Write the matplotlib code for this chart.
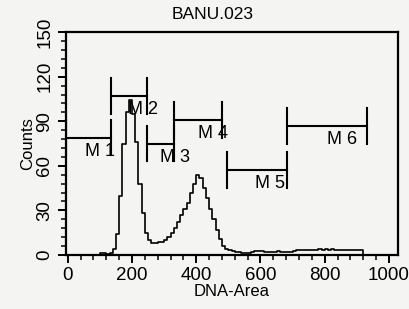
import numpy as np
import matplotlib
matplotlib.use("Agg")
import matplotlib.pyplot as plt

plt.rcParams['font.family'] = ['Liberation Sans', 'DejaVu Sans']

# histogram: left edge of each 10-unit channel bin and its count
bin_left = np.arange(0, 1030, 10)
counts = [0, 0, 0, 0, 0, 0, 0, 0, 0, 0,
          1, 1, 0.5, 1.5, 4, 14, 40, 75, 96, 104,
          95, 76, 48, 28, 15, 10, 8, 8, 8.5, 9,
          10, 12, 15, 18, 22, 27, 31, 35, 42, 48,
          54, 52, 45, 38, 31, 24, 17, 11, 6, 4,
          3.5, 2.5, 2, 2, 1.5, 1.5, 1.5, 2, 2.5, 2.5,
          2.5, 2, 2, 2, 2, 2.5, 2, 2, 2, 2,
          2.5, 3, 3, 3, 3, 3, 3.5, 3.5, 4, 3.5,
          4, 3.5, 4, 3.5, 3.5, 3, 3, 3, 3, 3,
          3, 3, 0, 0, 0, 0, 0, 0, 0, 0,
          0, 0, 0]

# region markers
marker_names = ['M1', 'M2', 'M3', 'M4', 'M5', 'M6']
marker_start = [-6, 134, 246, 330, 495, 682]
marker_end = [134, 246, 330, 480, 682, 931]
marker_level = [79, 107, 75, 91, 57, 87]
label_x = [146, 282, 382, 498, 676, 900]

fig = plt.figure(figsize=(4.09, 3.09), dpi=100)
fig.patch.set_facecolor('#f4f4f2')
ax = fig.add_axes([0.161, 0.175, 0.812, 0.721])
ax.set_facecolor('#f4f4f2')

ax.step(bin_left, counts, where='post', color='black', lw=1.2)

for name, x0, x1, lev, lx in zip(marker_names, marker_start, marker_end, marker_level, label_x):
    ax.plot([x0, x1], [lev, lev], color='black', lw=1.5)
    ax.plot([x0, x0], [lev - 12, lev + 12], color='black', lw=1.5)
    ax.plot([x1, x1], [lev - 12, lev + 12], color='black', lw=1.5)
    ax.text(lx, lev - 3.5, name[0] + ' ' + name[1], ha='right', va='top', fontsize=13)

ax.set_xlim(-6, 1028)
ax.set_ylim(0, 150)
ax.set_xticks([0, 200, 400, 600, 800, 1000])
ax.set_xticks(np.arange(0, 1001, 40), minor=True)
ax.set_yticks([0, 30, 60, 90, 120, 150])
ax.set_yticks(np.arange(0, 151, 6), minor=True)
ax.tick_params(direction='out', length=6, width=1.4, labelsize=13.5, pad=3)
ax.tick_params(which='minor', direction='out', length=3.5, width=1.1)
for lab in ax.get_yticklabels():
    lab.set_rotation(90)
    lab.set_va('center')
for sp in ax.spines.values():
    sp.set_linewidth(1.6)

ax.set_xlabel('DNA-Area', fontsize=12, labelpad=0)
ax.set_ylabel('Counts', fontsize=12, labelpad=1)
fig.text(0.521, 0.952, 'BANU.023', ha='center', va='center', fontsize=12.5)

fig.savefig('out.png', dpi=100, facecolor=fig.get_facecolor())
